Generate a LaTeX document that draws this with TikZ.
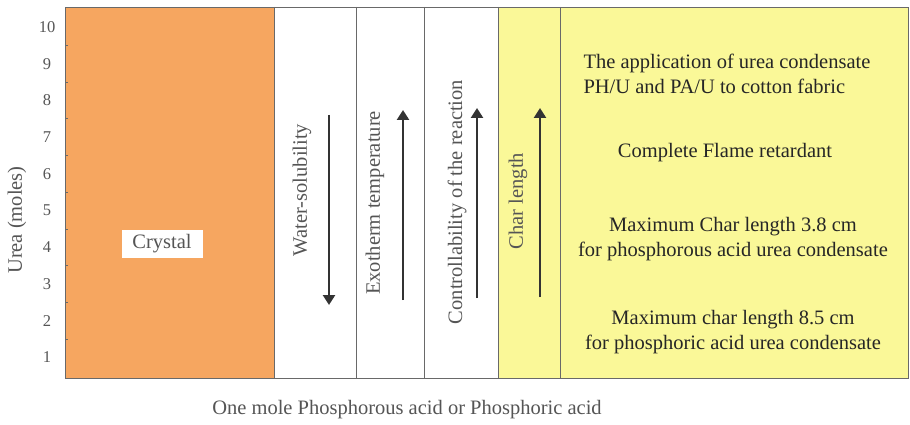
\documentclass[tikz,border=0pt]{standalone}
\usepackage{fontspec}
\setmainfont{Liberation Serif}
\usetikzlibrary{positioning,calc,arrows.meta}

\definecolor{crystalorange}{RGB}{246,166,96}
\definecolor{charyellow}{RGB}{250,248,152}
\definecolor{framegray}{RGB}{105,105,105}
\definecolor{labelgray}{RGB}{85,85,85}

\begin{document}
\begin{tikzpicture}[x=1pt,y=-1pt]
\tikzset{col/.style={draw=framegray,line width=0.7pt},
  lbl/.style={font=\fontsize{20.5}{23}\selectfont,text=labelgray,inner sep=1pt},
  vlbl/.style={lbl,rotate=90},
  trend/.style={-{Triangle[length=10pt,width=12pt]},line width=2.4pt,black!80},
  info/.style={font=\fontsize{20.5}{25}\selectfont,align=center,text=black!85}};
\useasboundingbox[fill=white] (0,0) rectangle (910,425);

   % the columns
   \fill[crystalorange] (65,7) rectangle (274,378);
   \fill[charyellow] (498,7) rectangle (908,378);
   \foreach \x in {274,356,424,498,560}
      \draw[col] (\x,7) -- (\x,378);
   \draw[col] (65,7) rectangle (908,378);

   % urea axis
   \foreach \n [evaluate=\n as \y using 394-36.7*\n] in {1,...,10}
      \node[lbl,font=\fontsize{16.5}{18}\selectfont] at (47,\y) (u\n) {\n};
   \foreach \n in {1,...,9}
      \draw[framegray] (65,{375.5-36.7*\n}) -- ++(3,0);
   \node[vlbl] at (17,220) (urea) {Urea (moles)};
   \node[lbl] at (407,410) (acid) {One mole Phosphorous acid or Phosphoric acid};

   \node[lbl,fill=white,inner sep=4pt,minimum width=81pt,minimum height=28pt] at (162,244) (crystal) {Crystal};

   % trends
   \node[vlbl] at (302,190) (water) {Water-solubility};
   \node[vlbl] at (375,203) (exo) {Exotherm temperature};
   \node[vlbl] at (457,202) (ctrl) {Controllability of the reaction};
   \node[vlbl] at (518,201) (char) {Char length};

   \coordinate (w1) at (329,115); \coordinate (w2) at (329,305);
   \coordinate (e1) at (403,300); \coordinate (e2) at (403,110);
   \coordinate (c1) at (477,298); \coordinate (c2) at (477,108);
   \coordinate (h1) at (540,297); \coordinate (h2) at (540,108);
   \draw[trend] (w1) -- (w2);
   \draw[trend] (e1) -- (e2);
   \draw[trend] (c1) -- (c2);
   \draw[trend] (h1) -- (h2);

   % results on cotton fabric
   \node[info,align=left,anchor=west] at (580,74) (appl) {The application of urea condensate\\PH/U and PA/U  to cotton fabric};
   \node[info] at (725,153) (flame) {Complete Flame retardant};
   \node[info] at (733,239) (phu) {Maximum Char length 3.8 cm\\ for phosphorous acid urea condensate};
   \node[info] at (733,332) (pau) {Maximum char length 8.5 cm\\for phosphoric  acid urea condensate};

\end{tikzpicture}
\end{document}
